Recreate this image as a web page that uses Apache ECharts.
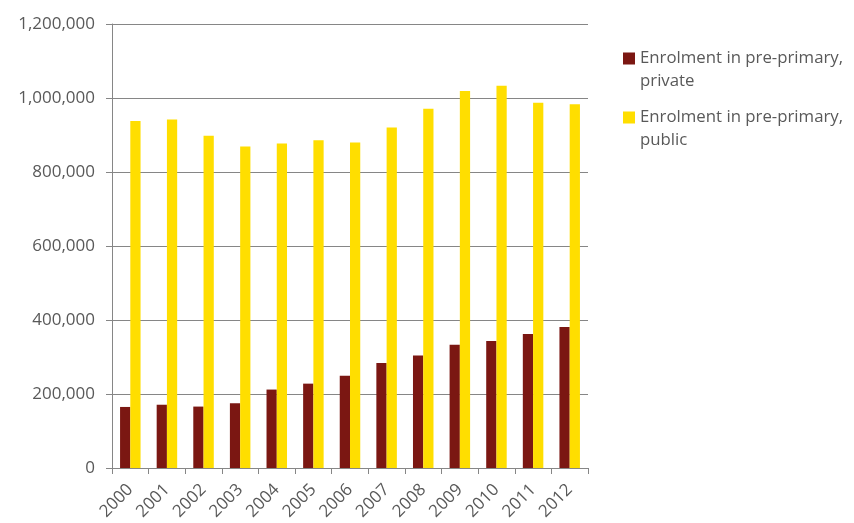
<!DOCTYPE html>
<html><head><meta charset="utf-8">
<script src="https://cdn.jsdelivr.net/npm/echarts@6/dist/echarts.min.js"></script>
<style>html,body{margin:0;padding:0;background:#fff}#c{width:854px;height:523px}</style>
</head><body><div id="c"></div>
<script>
const years = ['2000','2001','2002','2003','2004','2005','2006','2007','2008','2009','2010','2011','2012'];
const privateVals = [165000,171000,166000,175000,212000,228000,249000,284000,304000,333000,343000,362000,381000];
const publicVals = [938000,942000,898000,869000,877000,886000,880000,920000,971000,1019000,1033000,987000,983000];
const seriesNames = ['Enrolment in pre-primary, private','Enrolment in pre-primary, public'];
const yTicks = {min:0, max:1200000, interval:200000};

const chart = echarts.init(document.getElementById('c'), null, {renderer:'canvas'});
const txt = '#595959', ff = '"Open Sans", sans-serif', axisCol = '#868686';
chart.setOption({
  animation:false,
  textStyle:{fontFamily:ff},
  grid:{left:112, right:266, top:24, bottom:55, containLabel:false},
  legend:{
    orient:'vertical', left:623, top:47, padding:0, itemWidth:12, itemHeight:35, itemGap:13,
    icon:'path://M0,0H12V12H0Z M0,35H12',
    formatter: n => n.replace(', ', ',\n'),
    textStyle:{color:txt, fontSize:16.8, fontFamily:ff, lineHeight:23}
  },
  xAxis:{
    type:'category', data:years,
    axisLine:{lineStyle:{color:axisCol}},
    axisTick:{show:true, length:6, lineStyle:{color:axisCol}},
    axisLabel:{rotate:45, color:txt, fontSize:17, margin:19, fontFamily:ff}
  },
  yAxis:{
    type:'value', min:yTicks.min, max:yTicks.max, interval:yTicks.interval,
    axisLine:{show:true, lineStyle:{color:axisCol}},
    axisTick:{show:true, length:6, lineStyle:{color:axisCol}},
    splitLine:{lineStyle:{color:axisCol}},
    axisLabel:{color:txt, fontSize:17, margin:17, fontFamily:ff,
      formatter: v => v.toLocaleString('en-US')}
  },
  series:[
    {name:seriesNames[0], type:'bar', data:privateVals, barGap:'0%', barCategoryGap:'44%',
     itemStyle:{color:'#7b1712'}},
    {name:seriesNames[1], type:'bar', data:publicVals, barGap:'0%', barCategoryGap:'44%',
     itemStyle:{color:'#ffde00'}}
  ]
});
</script></body></html>
